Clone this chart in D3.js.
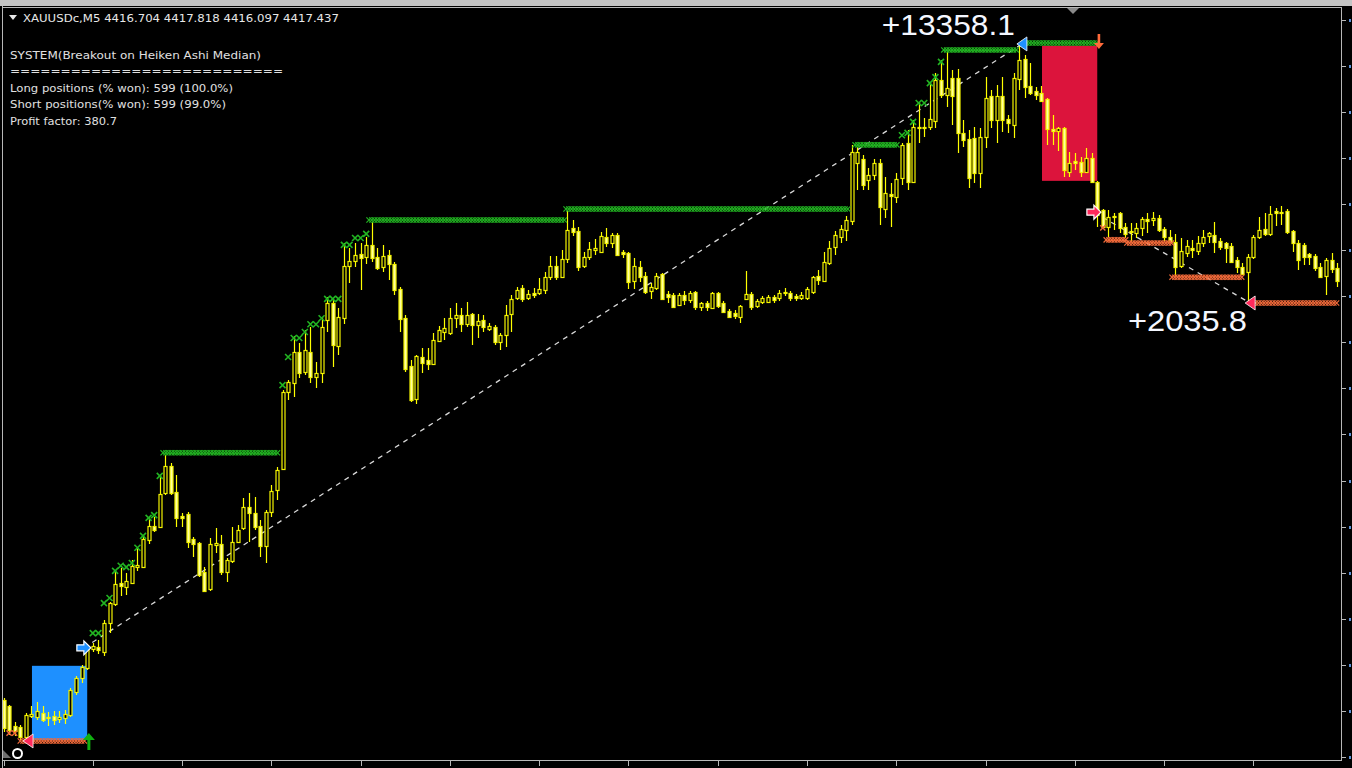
<!DOCTYPE html>
<html><head><meta charset="utf-8">
<script src="https://cdn.jsdelivr.net/npm/d3@7"></script>
<style>html,body{margin:0;padding:0;background:#000;overflow:hidden}svg{display:block}</style>
</head><body><svg id="c" width="1352" height="768"></svg>
<script>
// ---------- DATA ----------
const symbolHeader = "XAUUSDc,M5  4416.704 4417.818 4416.097 4417.437";
const commentLines = [
  "SYSTEM(Breakout on Heiken Ashi Median)",
  "===========================",
  "Long positions (% won): 599 (100.0%)",
  "Short positions(% won): 599 (99.0%)",
  "Profit factor: 380.7"
];
const open = [4408.24,4408.11,4407.68,4407.66,4407.44,4407.90,4407.87,4407.96,4407.87,4407.90,4407.83,4407.85,4407.92,4408.41,4408.72,4408.93,4409.34,4409.39,4409.28,4409.91,4410.32,4410.78,4410.69,4410.78,4411.12,4411.12,4411.71,4412.01,4411.99,4412.73,4413.31,4412.75,4412.23,4412.27,4411.73,4411.64,4411.02,4410.65,4411.60,4411.62,4411.02,4411.25,4411.67,4411.97,4412.43,4412.30,4412.01,4411.58,4412.32,4412.79,4413.25,4414.92,4415.12,4415.79,4415.35,4415.79,4415.25,4415.33,4416.48,4416.85,4415.92,4416.52,4417.65,4417.76,4417.91,4417.85,4418.11,4417.85,4417.63,4417.89,4417.70,4417.15,4416.52,4415.48,4414.77,4415.68,4415.61,4415.53,4416.03,4416.22,4416.20,4416.52,4416.59,4416.39,4416.61,4416.37,4416.48,4416.29,4416.33,4416.00,4416.16,4416.61,4416.96,4417.18,4416.96,4417.07,4417.07,4417.13,4417.41,4417.65,4417.41,4417.80,4418.48,4418.41,4417.65,4417.85,4418.00,4417.96,4418.28,4418.15,4418.33,4417.96,4417.93,4417.33,4417.63,4417.44,4417.11,4417.18,4417.48,4417.05,4417.02,4416.81,4417.02,4416.92,4417.09,4416.76,4416.85,4416.74,4417.07,4416.85,4416.68,4416.63,4416.55,4416.94,4417.05,4416.79,4416.87,4416.87,4416.98,4416.96,4417.07,4417.07,4417.00,4416.96,4416.96,4417.09,4417.44,4417.33,4417.72,4418.07,4418.28,4418.43,4418.63,4419.89,4419.97,4419.52,4419.63,4419.89,4418.89,4419.21,4419.15,4419.56,4420.32,4419.48,4420.65,4420.65,4420.67,4420.80,4421.69,4421.36,4421.73,4421.73,4420.54,4420.41,4420.43,4419.67,4420.45,4421.34,4420.82,4421.34,4420.84,4420.71,4421.71,4422.14,4421.56,4421.45,4421.41,4421.28,4420.62,4420.58,4420.65,4419.69,4419.93,4419.91,4419.69,4420.00,4419.48,4418.87,4418.50,4418.72,4418.80,4418.50,4418.41,4418.37,4418.48,4418.67,4418.65,4418.69,4418.46,4418.28,4418.17,4417.65,4417.93,4418.04,4417.98,4418.15,4418.30,4418.33,4418.20,4418.15,4418.09,4417.78,4417.63,4417.52,4417.85,4418.28,4418.46,4418.35,4418.85,4418.80,4418.85,4418.41,4418.15,4418.11,4417.91,4417.87,4417.63,4417.44,4417.78,4417.61];
const high = [4408.28,4408.13,4407.77,4407.70,4407.96,4408.11,4408.20,4408.11,4407.98,4408.00,4408.00,4408.02,4408.50,4408.76,4409.00,4409.39,4409.47,4409.54,4409.97,4410.36,4411.06,4411.10,4410.99,4411.28,4411.56,4411.82,4412.21,4412.21,4413.12,4413.55,4413.38,4413.12,4412.30,4412.32,4411.77,4411.67,4411.12,4411.75,4411.97,4411.82,4411.32,4411.99,4412.03,4412.62,4412.73,4412.64,4412.14,4412.36,4412.90,4413.29,4414.96,4415.18,4416.13,4415.98,4416.26,4416.33,4415.57,4416.55,4416.98,4416.92,4416.74,4418.15,4418.04,4418.15,4418.15,4418.28,4418.61,4418.04,4418.11,4418.00,4417.74,4417.20,4416.59,4415.61,4415.72,4415.87,4415.87,4416.20,4416.35,4416.52,4416.74,4416.85,4416.74,4416.87,4416.63,4416.61,4416.59,4416.42,4416.37,4416.20,4416.81,4417.02,4417.20,4417.24,4417.13,4417.18,4417.39,4417.52,4417.87,4417.87,4418.00,4418.87,4418.65,4418.50,4417.96,4418.17,4418.24,4418.39,4418.48,4418.37,4418.37,4418.00,4417.96,4417.83,4417.76,4417.52,4417.28,4417.50,4417.50,4417.11,4417.07,4417.07,4417.11,4417.11,4417.11,4416.87,4416.89,4417.09,4417.09,4416.89,4416.72,4416.70,4416.81,4417.54,4417.09,4416.94,4417.00,4417.02,4417.02,4417.13,4417.18,4417.11,4417.05,4417.09,4417.20,4417.44,4417.57,4417.96,4418.20,4418.41,4418.54,4418.74,4420.28,4420.23,4420.06,4419.78,4419.97,4419.97,4419.58,4419.45,4419.67,4420.32,4420.60,4420.82,4421.21,4420.86,4421.62,4421.84,4422.12,4422.30,4421.90,4421.93,4420.82,4420.60,4420.67,4420.65,4421.75,4421.47,4421.58,4421.75,4420.93,4421.84,4422.45,4422.23,4422.06,4421.54,4421.56,4421.30,4420.93,4420.67,4420.67,4420.13,4420.10,4420.02,4420.21,4420.10,4419.50,4418.89,4418.87,4418.80,4418.82,4418.59,4418.59,4418.59,4418.72,4418.80,4418.82,4418.76,4418.50,4418.43,4418.35,4418.26,4418.22,4418.22,4418.30,4418.43,4418.39,4418.61,4418.26,4418.17,4418.15,4417.85,4417.72,4417.91,4418.33,4418.72,4418.80,4418.95,4418.91,4418.95,4418.89,4418.43,4418.22,4418.15,4417.93,4417.91,4417.72,4417.83,4417.93,4417.72];
const low = [4407.55,4407.48,4407.46,4407.37,4407.37,4407.85,4407.81,4407.77,4407.68,4407.70,4407.74,4407.72,4407.87,4408.35,4408.61,4408.89,4409.28,4409.24,4409.19,4409.69,4410.28,4410.49,4410.52,4410.78,4411.04,4411.10,4411.62,4411.88,4411.97,4412.69,4412.69,4411.99,4411.99,4411.54,4411.34,4410.91,4410.58,4410.60,4411.43,4410.95,4410.80,4411.21,4411.64,4411.93,4411.67,4411.93,4411.34,4411.21,4412.21,4412.58,4413.23,4414.75,4414.81,4415.22,4415.29,4415.12,4415.01,4415.12,4416.22,4415.46,4415.72,4416.39,4417.28,4417.63,4417.13,4417.70,4417.74,4417.57,4417.52,4417.35,4417.02,4416.22,4415.35,4414.70,4414.66,4415.33,4415.40,4415.51,4416.00,4416.05,4416.16,4416.31,4416.22,4416.33,4415.94,4416.09,4416.22,4416.24,4415.94,4415.83,4415.90,4416.22,4416.92,4416.87,4416.92,4416.96,4417.02,4417.05,4417.35,4417.35,4417.39,4417.72,4418.30,4417.54,4417.61,4417.78,4417.89,4417.93,4418.07,4418.04,4417.87,4417.83,4417.15,4417.15,4417.31,4417.05,4416.94,4417.13,4416.92,4416.85,4416.74,4416.79,4416.81,4416.85,4416.70,4416.68,4416.68,4416.72,4416.74,4416.63,4416.52,4416.50,4416.42,4416.92,4416.70,4416.74,4416.83,4416.85,4416.85,4416.89,4417.00,4416.89,4416.89,4416.92,4416.92,4417.05,4417.24,4417.31,4417.67,4417.89,4418.15,4418.20,4418.54,4419.30,4419.30,4419.30,4419.52,4418.54,4418.69,4418.50,4419.02,4419.41,4419.30,4419.45,4420.32,4420.45,4420.60,4420.65,4421.30,4421.10,4420.71,4420.10,4420.23,4419.34,4419.45,4419.34,4420.21,4420.65,4420.32,4420.56,4420.54,4420.43,4421.47,4421.30,4421.36,4421.25,4421.21,4420.28,4420.28,4420.15,4419.58,4419.58,4419.74,4419.58,4419.67,4419.45,4418.50,4418.48,4418.28,4418.43,4418.37,4418.26,4418.17,4418.26,4418.30,4418.37,4418.52,4418.39,4418.20,4418.15,4417.41,4417.61,4417.85,4417.83,4417.89,4418.07,4418.15,4417.93,4418.00,4417.72,4417.72,4417.50,4417.46,4416.85,4417.80,4418.24,4418.30,4418.30,4418.52,4418.54,4418.35,4417.96,4417.57,4417.67,4417.67,4417.54,4417.39,4417.02,4417.50,4417.20];
const close = [4407.64,4407.59,4407.57,4407.44,4407.92,4407.94,4408.00,4407.81,4407.85,4407.81,4407.87,4407.94,4408.46,4408.72,4408.95,4409.34,4409.41,4409.32,4409.91,4410.34,4410.75,4410.71,4410.82,4411.15,4411.17,4411.73,4412.01,4411.93,4412.71,4413.31,4412.73,4412.19,4412.19,4411.67,4411.62,4410.95,4410.60,4411.62,4411.64,4411.02,4411.28,4411.67,4411.93,4412.43,4412.30,4411.99,4411.58,4412.32,4412.77,4413.23,4414.92,4415.14,4415.79,4415.33,4415.83,4415.25,4415.33,4416.33,4416.85,4415.94,4416.55,4417.65,4417.76,4417.89,4417.83,4418.11,4417.83,4417.61,4417.87,4417.70,4417.13,4416.50,4415.42,4414.75,4415.70,4415.55,4415.53,4416.05,4416.26,4416.31,4416.52,4416.59,4416.39,4416.59,4416.37,4416.46,4416.33,4416.35,4416.00,4416.16,4416.59,4416.94,4417.13,4416.94,4417.05,4417.02,4417.15,4417.41,4417.65,4417.41,4417.80,4418.43,4418.39,4417.63,4417.85,4418.02,4418.04,4418.30,4418.15,4418.33,4417.89,4417.91,4417.31,4417.65,4417.41,4417.09,4417.20,4417.44,4416.94,4416.98,4416.76,4417.02,4416.92,4417.07,4416.76,4416.85,4416.76,4417.07,4416.79,4416.66,4416.55,4416.57,4416.79,4417.05,4416.76,4416.89,4416.96,4416.98,4416.92,4417.07,4417.09,4416.96,4416.96,4417.02,4417.15,4417.41,4417.35,4417.74,4418.04,4418.33,4418.46,4418.65,4420.13,4420.13,4419.41,4419.63,4419.89,4418.93,4419.24,4419.17,4419.54,4420.28,4419.48,4420.67,4420.67,4420.67,4420.84,4421.69,4421.36,4421.51,4421.34,4420.54,4420.39,4419.56,4419.67,4420.45,4421.30,4420.82,4421.34,4420.82,4420.75,4421.73,4422.12,4421.54,4421.41,4421.36,4421.23,4420.62,4420.58,4420.65,4419.74,4419.89,4419.89,4419.69,4420.00,4419.48,4418.76,4418.50,4418.72,4418.74,4418.48,4418.35,4418.39,4418.48,4418.67,4418.63,4418.69,4418.43,4418.28,4418.17,4417.63,4417.98,4418.09,4418.00,4418.15,4418.28,4418.37,4418.17,4418.07,4418.04,4417.74,4417.63,4417.48,4417.85,4418.28,4418.43,4418.35,4418.78,4418.80,4418.82,4418.39,4418.15,4417.78,4417.85,4417.85,4417.61,4417.41,4417.78,4417.59,4417.33];

// breakout level chains: [startBar, endBar, price]
const greenLevels = [[28.6,49.4,4413.60],[65.5,100.6,4418.65],[100.8,151.7,4418.89],[152.6,160.5,4420.28],[168.5,181.6,4422.34],[182.9,196.1,4422.49]];
const orangeLevels = [[3,14.6,4407.35],[197.6,201.5,4418.22],[201.3,209.4,4418.15],[209.4,222.3,4417.41],[223.9,239.3,4416.85]];
// single trailing marks: [bar, price]
const greenMarks = [[16,4409.69],[17,4409.69],[18,4410.34],[19,4410.45],[20,4411.04],[21,4411.15],[22,4411.12],[23,4411.21],[24,4411.54],[25,4411.80],[26,4412.19],[27,4412.25],[28,4413.10],[50,4415.07],[51,4415.68],[52,4416.09],[53,4416.09],[54,4416.22],[55,4416.39],[56,4416.39],[57,4416.52],[58,4416.94],[59,4416.94],[60,4416.94],[61,4418.11],[62,4418.11],[63,4418.26],[64,4418.26],[65,4418.35],[161,4420.49],[162,4420.54],[163,4420.78],[164,4421.19],[165,4421.19],[166,4421.62],[167,4421.75],[168,4422.08]];
const orangeMarks = [[1,4407.52],[2,4407.52],[197,4418.48]];
// trades
const tradeEntryBar = [14.4, 195.4];
const tradeEntryPrice = [4409.37, 4418.82];
const tradeExitBar = [182.5, 223.4];
const tradeExitPrice = [4422.47, 4416.85];
const tradeProfit = ["+13358.1", "+2035.8"];
const profitLabelBar = [157.4, 201.5];
const profitLabelPrice = [4422.66, 4416.24];
// zones: [barStart, barEnd, priceTop, priceBottom]
const zoneBlue = [5.1, 15.0, 4408.98, 4407.37];
const zoneRed = [186.1, 196.0, 4422.43, 4419.50];
// other arrows
const closeArrowLong = [15.3, 4407.35];
const openMarkLeft = [4.4, 4407.35];
const closeArrowShort = [196.3, 4422.51];
// axes
const priceTicks = d3.range(4407, 4424, 1);
const timeTickBars = [0,16,32,48,64,80,96,112,128,144,160,176,192,208,224];

// ---------- SCALES ----------
const svg = d3.select("#c");
const W = 1352, H = 768;
const x = d3.scaleLinear().domain([0, 239]).range([3.5, 1337.2]);
const y = d3.scaleLinear().domain([4407, 4423]).range([757.1, 19.5]);
const px = v => Math.round(x(v)) + 0.5;
const py = v => Math.round(y(v));

svg.append("rect").attr("width", W).attr("height", H).attr("fill", "#000");

const plot = svg.append("g").attr("clip-path", "url(#clip)");
svg.append("clipPath").attr("id", "clip").append("rect").attr("x", 3).attr("y", 8).attr("width", 1338).attr("height", 752);

function zone(z, col) {
  plot.append("rect").attr("x", x(z[0])).attr("y", y(z[2]))
    .attr("width", x(z[1]) - x(z[0])).attr("height", y(z[3]) - y(z[2])).attr("fill", col);
}
zone(zoneBlue, "#1e90ff");
zone(zoneRed, "#dc143c");

tradeEntryBar.forEach((b, k) => {
  plot.append("line").attr("x1", x(b)).attr("y1", y(tradeEntryPrice[k]))
    .attr("x2", x(tradeExitBar[k])).attr("y2", y(tradeExitPrice[k]))
    .attr("stroke", "#d8d8d8").attr("stroke-width", 1.3).attr("stroke-dasharray", "5,5");
});

const idx = d3.range(open.length);
const cg = plot.append("g");
idx.forEach(i => {
  const cx = px(i);
  const bull = close[i] > open[i];
  cg.append("line").attr("x1", cx).attr("x2", cx).attr("y1", py(high[i])).attr("y2", py(low[i]))
    .attr("stroke", "#ffff00").attr("stroke-width", 1.2);
  const t = py(Math.max(open[i], close[i])), b = py(Math.min(open[i], close[i]));
  cg.append("rect").attr("x", cx - 1.5).attr("y", t + 0.5).attr("width", 3).attr("height", Math.max(1, b - t))
    .attr("fill", bull ? "#000" : "#ffffa0").attr("stroke", "#f4f400").attr("stroke-width", 1.2);
});

function xmark(g, cx, cy, col, s, w) {
  g.append("path").attr("d", `M${cx-s},${cy-s}L${cx+s},${cy+s}M${cx-s},${cy+s}L${cx+s},${cy-s}`)
    .attr("stroke", col).attr("stroke-width", w).attr("fill", "none");
}
const mg = plot.append("g");
function chain(lv, col) {
  lv.forEach(l => {
    for (let t = l[0]; t <= l[1] + 0.001; t += 0.5) xmark(mg, x(t), y(l[2]), col, 2.6, 1.2);
  });
}
chain(greenLevels, "#22b422");
chain(orangeLevels, "#f26a3a");
greenMarks.forEach(m => xmark(mg, x(m[0]), y(m[1]), "#22b422", 3, 1.6));
orangeMarks.forEach(m => xmark(mg, x(m[0]), y(m[1]), "#f26a3a", 2.6, 1.4));

function rightArrow(cx, cy, col) {
  plot.append("path").attr("d", `M${cx-7},${cy-3}L${cx},${cy-3}L${cx},${cy-7}L${cx+7},${cy}L${cx},${cy+7}L${cx},${cy+3}L${cx-7},${cy+3}Z`)
    .attr("fill", col).attr("stroke", "#fff").attr("stroke-width", 1.2);
}
function leftTri(cx, cy, col) {
  plot.append("path").attr("d", `M${cx-5},${cy}L${cx+5},${cy-7}L${cx+5},${cy+7}Z`)
    .attr("fill", col).attr("stroke", "#fff").attr("stroke-width", 0.8);
}
function upArrow(cx, cy, col) {
  plot.append("path").attr("d", `M${cx},${cy-8}L${cx+6},${cy-1}L${cx+1.5},${cy-1}L${cx+1.5},${cy+9}L${cx-1.5},${cy+9}L${cx-1.5},${cy-1}L${cx-6},${cy-1}Z`)
    .attr("fill", col);
}
function downArrow(cx, cy, col) {
  plot.append("path").attr("d", `M${cx},${cy+7}L${cx+5},${cy+1}L${cx+1.3},${cy+1}L${cx+1.3},${cy-8}L${cx-1.3},${cy-8}L${cx-1.3},${cy+1}L${cx-5},${cy+1}Z`)
    .attr("fill", col);
}
rightArrow(x(tradeEntryBar[0]), y(tradeEntryPrice[0]), "#1e90ff");
rightArrow(x(tradeEntryBar[1]), y(tradeEntryPrice[1]), "#ff2a5c");
leftTri(x(tradeExitBar[0]), y(tradeExitPrice[0]), "#1e90ff");
leftTri(x(tradeExitBar[1]), y(tradeExitPrice[1]), "#ff2a5c");
leftTri(x(openMarkLeft[0]), y(openMarkLeft[1]), "#ff2a5c");
upArrow(x(closeArrowLong[0]), y(closeArrowLong[1]), "#10b010");
downArrow(x(closeArrowShort[0]), y(closeArrowShort[1]), "#ff6a3a");

tradeProfit.forEach((s, k) => {
  svg.append("text").attr("x", x(profitLabelBar[k])).attr("y", y(profitLabelPrice[k]))
    .attr("font-family", "Liberation Sans, Arial, sans-serif").attr("font-size", 29)
    .attr("fill", "#f4f7ff").attr("textLength", k === 0 ? 133 : 119).attr("lengthAdjust", "spacingAndGlyphs")
    .text(s);
});

// frame
svg.append("rect").attr("x", 0).attr("y", 0).attr("width", W).attr("height", 6).attr("fill", "#c4c4c4");
const fr = svg.append("g").attr("stroke", "#b8b8b8").attr("stroke-width", 1).attr("fill", "none");
fr.append("line").attr("x1", 2.5).attr("x2", 2.5).attr("y1", 6).attr("y2", 768);
fr.append("line").attr("x1", 2).attr("x2", 1342).attr("y1", 7.5).attr("y2", 7.5);
fr.append("line").attr("x1", 1341.5).attr("x2", 1341.5).attr("y1", 7).attr("y2", 761);
fr.append("line").attr("x1", 2).attr("x2", 1342).attr("y1", 760.5).attr("y2", 760.5);

const ya = svg.append("g");
priceTicks.forEach(p => {
  const yy = py(p) + 0.5;
  ya.append("line").attr("x1", 1342).attr("x2", 1346).attr("y1", yy).attr("y2", yy).attr("stroke", "#b8b8b8");
  ya.append("rect").attr("x", 1349).attr("y", yy - 1.5).attr("width", 2).attr("height", 3).attr("fill", "#5a8fd8");
});
const xa = svg.append("g");
timeTickBars.forEach(b => {
  const xx = px(b);
  xa.append("line").attr("x1", xx).attr("x2", xx).attr("y1", 761).attr("y2", 766).attr("stroke", "#b8b8b8");
});

svg.append("path").attr("d", "M1067,8L1079,8L1073,14Z").attr("fill", "#8a8a8a");
svg.append("path").attr("d", "M3,750L11,758L3,758Z").attr("fill", "#707070");
svg.append("circle").attr("cx", 17.5).attr("cy", 753.5).attr("r", 4.5).attr("fill", "none").attr("stroke", "#fff").attr("stroke-width", 2);

svg.append("path").attr("d", "M9,15L17,15L13,20Z").attr("fill", "#e8e8e8");
svg.append("text").attr("x", 23).attr("y", 22).attr("fill", "#e8e8e8")
  .attr("font-family", "DejaVu Sans, Tahoma, sans-serif").attr("font-size", 11)
  .attr("textLength", 316).attr("lengthAdjust", "spacingAndGlyphs").text(symbolHeader);
const cw = [251, 273, 223, 216, 107];
commentLines.forEach((s, k) => {
  svg.append("text").attr("x", 10).attr("y", 58.5 + k * 16.6).attr("fill", "#e0e0e0")
    .attr("font-family", "DejaVu Sans, Tahoma, sans-serif").attr("font-size", 11)
    .attr("textLength", cw[k]).attr("lengthAdjust", "spacingAndGlyphs").text(s);
});
</script></body></html>
